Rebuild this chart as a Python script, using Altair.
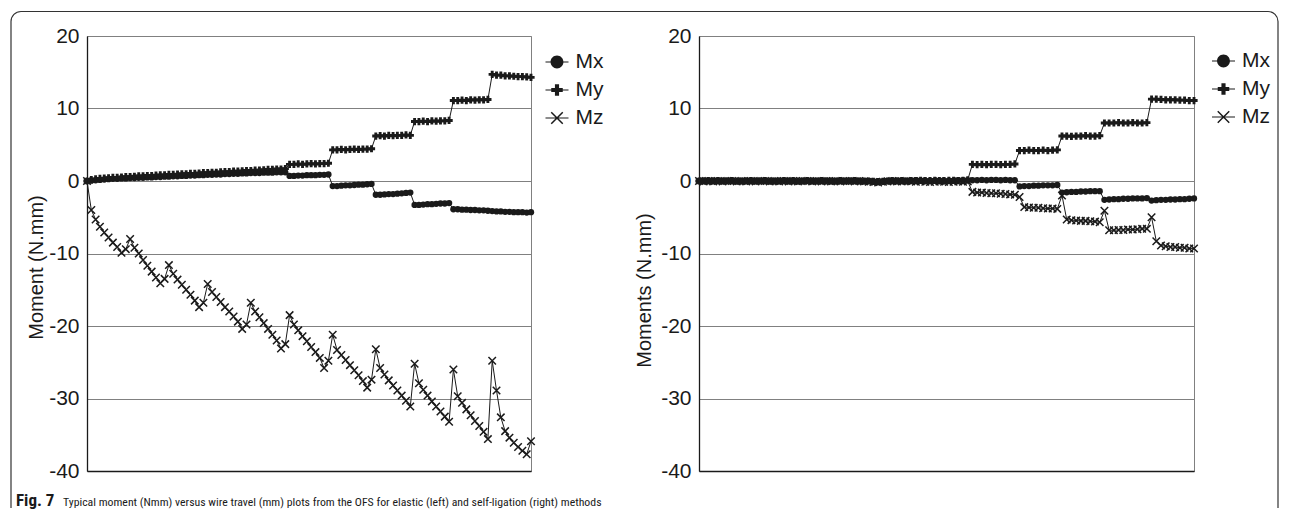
import altair as alt
import pandas as pd

SERIES = ["Mx", "My", "Mz"]

# ---------------- left panel (elastic), 104 samples ----------------
left_mx = [0.0, 0.05, 0.1, 0.15, 0.2, 0.25, 0.3, 0.3, 0.35, 0.35,
           0.4, 0.4, 0.45, 0.45, 0.5, 0.5, 0.55, 0.55, 0.6, 0.6,
           0.65, 0.65, 0.7, 0.7, 0.75, 0.75, 0.8, 0.8, 0.85, 0.85,
           0.9, 0.9, 0.95, 0.95, 1.0, 1.0, 1.05, 1.05, 1.1, 1.1,
           1.1, 1.15, 1.15, 1.15, 1.2, 1.2, 1.2,
           0.7, 0.7, 0.75, 0.75, 0.8, 0.8, 0.8, 0.85, 0.85, 0.9,
           -0.7, -0.7, -0.65, -0.6, -0.6, -0.55, -0.5, -0.5, -0.45, -0.4,
           -1.9, -1.9, -1.85, -1.8, -1.8, -1.75, -1.7, -1.65, -1.6,
           -3.3, -3.3, -3.25, -3.2, -3.2, -3.15, -3.1, -3.1, -3.05,
           -3.9, -3.9, -3.95, -3.95, -4.0, -4.0, -4.05, -4.05, -4.1,
           -4.15, -4.2, -4.2, -4.25, -4.25, -4.3, -4.3, -4.3, -4.35, -4.3]
left_my = [0.0, 0.2, 0.3, 0.35, 0.4, 0.45, 0.5, 0.5, 0.55, 0.6,
           0.6, 0.65, 0.7, 0.7, 0.75, 0.75, 0.8, 0.85, 0.85, 0.9,
           0.9, 0.95, 1.0, 1.0, 1.05, 1.05, 1.1, 1.15, 1.15, 1.2,
           1.2, 1.25, 1.3, 1.3, 1.35, 1.35, 1.4, 1.45, 1.45, 1.5,
           1.5, 1.55, 1.6, 1.6, 1.65, 1.65, 1.7,
           2.3, 2.3, 2.35, 2.3, 2.35, 2.4, 2.35, 2.4, 2.4, 2.45,
           4.3, 4.3, 4.35, 4.3, 4.35, 4.4, 4.35, 4.4, 4.4, 4.45,
           6.2, 6.25, 6.2, 6.3, 6.25, 6.3, 6.3, 6.35, 6.3,
           8.2, 8.2, 8.25, 8.2, 8.3, 8.25, 8.3, 8.3, 8.35,
           11.1, 11.1, 11.15, 11.1, 11.2, 11.15, 11.2, 11.2, 11.25,
           14.7, 14.6, 14.6, 14.5, 14.5, 14.45, 14.4, 14.4, 14.35, 14.3]
left_mz = [0.0, -4.0, -5.3, -6.3, -7.1, -7.8, -8.5, -9.1, -9.9, -9.4,
           -8.0, -9.2, -10.0, -10.9, -11.7, -12.5, -13.3, -14.1, -13.5, -11.6,
           -12.8, -13.6, -14.3, -15.0, -15.7, -16.5, -17.4, -16.8, -14.2, -15.3,
           -16.0, -16.7, -17.4, -18.0, -18.7, -19.4, -20.4, -19.8, -16.8, -18.0,
           -18.8, -19.6, -20.4, -21.2, -22.0, -23.1, -22.5, -18.5, -19.8, -20.6,
           -21.4, -22.1, -22.9, -23.6, -24.4, -25.8, -24.8, -21.2, -23.3, -24.0,
           -24.7, -25.4, -26.1, -26.8, -27.6, -28.5, -27.4, -23.2, -25.8, -26.7,
           -27.5, -28.2, -28.9, -29.6, -30.3, -31.1, -25.2, -27.9, -28.8, -29.6,
           -30.4, -31.1, -31.8, -32.5, -33.2, -26.0, -29.7, -30.6, -31.5, -32.3,
           -33.1, -33.8, -34.6, -35.6, -24.8, -28.9, -32.6, -34.5, -35.4, -36.1,
           -36.7, -37.2, -37.7, -35.9]

# ---------------- right panel (self-ligation), 106 samples ----------------
right_mx = [0.0, 0.05, 0.0, 0.05, 0.0, 0.0, 0.05, 0.0, -0.05, 0.0,
            0.05, 0.0, 0.0, 0.05, 0.0, -0.05, 0.0, 0.0, 0.05, 0.0,
            0.0, -0.05, 0.0, 0.05, 0.0, 0.0, 0.0, 0.05, 0.0, -0.05,
            0.0, 0.0, 0.05, 0.0, 0.0, -0.05, 0.0, -0.1, -0.15, -0.1,
            0.0, 0.0, 0.05, 0.0, 0.0, 0.05, 0.1, 0.05, 0.0, 0.0,
            0.05, 0.0, -0.05, 0.0, 0.05, 0.1, 0.05, 0.1,
            0.1, 0.1, 0.15, 0.1, 0.15, 0.15, 0.1, 0.15, 0.1, 0.1,
            -0.75, -0.7, -0.7, -0.65, -0.65, -0.6, -0.6, -0.6, -0.55,
            -1.6, -1.55, -1.5, -1.5, -1.45, -1.45, -1.4, -1.4, -1.4,
            -2.6, -2.55, -2.5, -2.5, -2.45, -2.45, -2.4, -2.4, -2.4, -2.35,
            -2.7, -2.65, -2.6, -2.6, -2.55, -2.55, -2.5, -2.5, -2.45, -2.4]
right_my = [0.0, 0.0, 0.05, 0.0, 0.05, 0.0, 0.0, 0.05, 0.0, 0.0,
            0.0, 0.05, 0.0, 0.0, 0.05, 0.0, 0.0, 0.0, 0.05, 0.0,
            0.05, 0.0, 0.0, 0.05, 0.0, 0.0, 0.05, 0.0, 0.0, 0.0,
            0.05, 0.0, 0.0, 0.05, 0.0, 0.0, 0.0, -0.05, -0.1, -0.05,
            0.0, 0.05, 0.0, 0.05, 0.0, 0.05, 0.05, 0.1, 0.05, 0.05,
            0.1, 0.05, 0.05, 0.1, 0.1, 0.05, 0.1, 0.15,
            2.3, 2.25, 2.3, 2.25, 2.3, 2.3, 2.25, 2.3, 2.3, 2.35,
            4.2, 4.2, 4.25, 4.2, 4.2, 4.25, 4.2, 4.25, 4.3,
            6.2, 6.2, 6.15, 6.2, 6.2, 6.25, 6.2, 6.2, 6.25,
            8.0, 8.0, 8.0, 8.05, 8.0, 8.0, 8.05, 8.0, 8.0, 8.05,
            11.3, 11.3, 11.25, 11.2, 11.2, 11.2, 11.15, 11.15, 11.1, 11.1]
right_mz = [0.0, -0.05, 0.0, -0.05, 0.0, -0.05, 0.0, 0.0, -0.05, 0.0,
            -0.05, 0.0, -0.05, 0.0, 0.0, -0.05, 0.0, -0.05, 0.0, -0.05,
            0.0, -0.05, 0.0, 0.0, -0.05, 0.0, -0.05, 0.0, -0.05, 0.0,
            -0.05, 0.0, 0.0, -0.05, 0.0, -0.05, -0.1, -0.15, -0.2, -0.1,
            -0.05, 0.0, -0.05, -0.05, 0.0, -0.05, -0.1, -0.05, -0.1, -0.15,
            -0.1, -0.05, -0.1, -0.15, -0.1, -0.05, -0.1, -0.05,
            -1.5, -1.6, -1.6, -1.65, -1.7, -1.7, -1.75, -1.8, -1.85, -1.9,
            -2.2, -3.6, -3.65, -3.7, -3.7, -3.75, -3.8, -3.8, -3.85,
            -2.0, -5.3, -5.4, -5.45, -5.5, -5.5, -5.55, -5.6, -5.7,
            -4.1, -6.8, -6.8, -6.75, -6.75, -6.7, -6.7, -6.65, -6.6, -6.6,
            -5.0, -8.3, -8.9, -9.0, -9.1, -9.1, -9.2, -9.2, -9.3, -9.3]

Y_TICKS = [-40, -30, -20, -10, 0, 10, 20]
CAPTION_BOLD = "Fig. 7"
CAPTION_TEXT = ("Typical moment (Nmm) versus wire travel (mm) plots from the OFS "
                "for elastic (left) and self-ligation (right) methods")

INK = "#1a1a1a"
AXIS_FONT = "Liberation Sans"
CAP_FONT = "Roboto Condensed, Roboto"

# legend symbols: marker with a short line through it (filled outlines)
STUB = "M-1,-0.045H1V0.045H-1Z"
LEGEND_PATHS = [
    STUB + "M-0.56,0A0.56,0.56 0 1,1 0.56,0A0.56,0.56 0 1,1 -0.56,0Z",
    STUB + "M-0.18,-0.5H0.18V-0.18H0.5V0.18H0.18V0.5H-0.18V0.18H-0.5V-0.18H-0.18Z",
    STUB + "M-0.455,-0.545L0.545,0.455L0.455,0.545L-0.545,-0.455Z"
           "M0.545,-0.455L-0.455,0.545L-0.545,0.455L0.455,-0.545Z",
]
X_PATH = "M-1,-1L1,1M-1,1L1,-1"


def long_df(mx, my, mz):
    rows = []
    for name, vals in zip(SERIES, (mx, my, mz)):
        for i, v in enumerate(vals):
            rows.append({"i": i, "value": v, "series": name})
    return pd.DataFrame(rows)


def panel(df, n, width, ytitle, title_x, title_y, leg_x, leg_y, frame=False):
    xs = alt.X("i:Q", scale=alt.Scale(domain=[0, n - 1], nice=False, zero=False),
               axis=alt.Axis(labels=False, ticks=False, grid=False, title=None,
                             domainColor=INK, domainWidth=1.3))
    ys = alt.Y("value:Q", scale=alt.Scale(domain=[-40, 20], nice=False, zero=False),
               axis=alt.Axis(values=Y_TICKS, grid=True, ticks=False,
                             labelExpr="'' + datum.value", title=ytitle,
                             titleX=title_x, titleY=title_y, titleAngle=270,
                             titleAlign="center", titleBaseline="middle",
                             domainColor=INK, domainWidth=1.3))
    base = alt.Chart(df)
    lines = base.mark_line(color=INK, strokeWidth=1).encode(x=xs, y=ys, detail="series:N")
    p_mx = base.transform_filter("datum.series == 'Mx'").mark_point(
        shape="circle", filled=True, size=40, color=INK, opacity=1).encode(x=xs, y=ys)
    p_my = base.transform_filter("datum.series == 'My'").mark_point(
        shape="cross", filled=True, size=52, color=INK, opacity=1).encode(x=xs, y=ys)
    p_mz = base.transform_filter("datum.series == 'Mz'").mark_point(
        shape=X_PATH, filled=False, size=56, color=INK, strokeWidth=1.5,
        opacity=1).encode(x=xs, y=ys)
    leg = base.transform_filter("false").mark_point(
        filled=True, color=INK, opacity=1, size=529).encode(
        x=xs, y=ys,
        shape=alt.Shape("series:N",
                        scale=alt.Scale(domain=SERIES, range=LEGEND_PATHS),
                        legend=alt.Legend(title=None, orient="none", legendX=leg_x,
                                          legendY=leg_y, symbolSize=529,
                                          labelFont=AXIS_FONT, labelFontSize=21,
                                          labelColor=INK, labelOffset=6,
                                          rowPadding=5, padding=0)))
    layers = [lines, p_mx, p_my, p_mz, leg]
    if frame:
        fr = alt.Chart(alt.Data(values=[{"f": 1}])).mark_point(
            shape="M-76,472V-14.5A10,10 0 0 1 -66,-24.5H1181A10,10 0 0 1 1191,-14.5V472",
            size=4, filled=False, stroke="#333333", strokeWidth=1.2, opacity=1
        ).encode(x=alt.value(0), y=alt.value(0))
        layers.append(fr)
    return alt.layer(*layers).properties(width=width, height=435)


left = panel(long_df(left_mx, left_my, left_mz), len(left_mz), 444,
             "Moment (N.mm)", -51, 231, 457.5, 13.5, frame=True)
right = panel(long_df(right_mx, right_my, right_mz), len(right_mz), 495,
              "Moments (N.mm)", -55, 254, 512, 12.5)

cap_df = pd.DataFrame({"bold": [CAPTION_BOLD], "text": [CAPTION_TEXT]})
cap_base = alt.Chart(cap_df)
cap_bold = cap_base.mark_text(align="left", baseline="alphabetic", font=CAP_FONT,
                              fontSize=17, fontWeight="bold", color=INK).encode(
    x=alt.value(-71), y=alt.value(10), text="bold:N")
cap_text = cap_base.mark_text(align="left", baseline="alphabetic", font=CAP_FONT,
                              fontSize=11.8, color=INK).encode(
    x=alt.value(-24), y=alt.value(10), text="text:N")
caption = alt.layer(cap_bold, cap_text).properties(
    width=300, height=10, view=alt.ViewBackground(stroke="transparent"))

chart = alt.concat(left, right, caption, columns=2,
                   spacing={"row": 25, "column": 168}, bounds="flush").resolve_scale(
    shape="independent"
).resolve_legend(shape="independent").properties(
    padding=0, background="white"
).configure_view(stroke="#808080", strokeWidth=1).configure_axis(
    gridColor="#808080", gridWidth=1, labelFont=AXIS_FONT, labelFontSize=21,
    labelColor=INK, labelPadding=8, titleFont=AXIS_FONT, titleFontSize=20,
    titleFontWeight="normal", titleColor=INK
)

chart.save("out.html", embed_options={"renderer": "svg", "actions": False})
